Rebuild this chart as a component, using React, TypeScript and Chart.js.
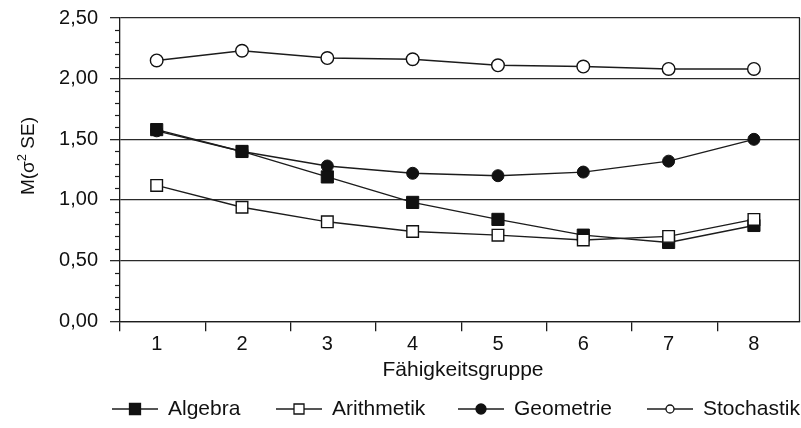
import React, { useEffect, useRef } from "react";
import { Chart, registerables } from "chart.js";

Chart.register(...registerables);

// Ability groups on the x axis
const groups = [1, 2, 3, 4, 5, 6, 7, 8];

// Mean squared standard error per content area
const algebra = [1.58, 1.4, 1.19, 0.98, 0.84, 0.71, 0.65, 0.79];
const arithmetik = [1.12, 0.94, 0.82, 0.74, 0.71, 0.67, 0.7, 0.84];
const geometrie = [1.57, 1.4, 1.28, 1.22, 1.2, 1.23, 1.32, 1.5];
const stochastik = [2.15, 2.23, 2.17, 2.16, 2.11, 2.1, 2.08, 2.08];

const seriesNames = ["Algebra", "Arithmetik", "Geometrie", "Stochastik"];
const yTicks = [0, 0.5, 1, 1.5, 2, 2.5];
const xTitle = "Fähigkeitsgruppe";

const FONT = '"Liberation Sans", Arial, Helvetica, sans-serif';
const INK = "#111";
const LINE = "#1c1c1c";
const X_MIN = 0.57;
const X_MAX = 8.54;
const TICK_SHIFT = 0.43;

// legend entry start positions (left end of each sample line)
const LEGEND_X = [112, 276, 458, 647];

type Marker = "filledRect" | "openRect" | "filledCircle" | "openCircle";
const markers: Marker[] = ["filledRect", "openRect", "filledCircle", "openCircle"];

function drawMarker(ctx: CanvasRenderingContext2D, kind: Marker, x: number, y: number, size: number) {
  ctx.save();
  ctx.lineWidth = 1.3;
  ctx.strokeStyle = INK;
  ctx.fillStyle = kind.startsWith("filled") ? INK : "#fff";
  ctx.beginPath();
  if (kind.endsWith("Rect")) {
    ctx.rect(x - size / 2, y - size / 2, size, size);
  } else {
    ctx.arc(x, y, size / 2, 0, Math.PI * 2);
  }
  ctx.fill();
  ctx.stroke();
  ctx.restore();
}

const decorations = {
  id: "decorations",
  afterDraw(chart: any) {
    const { ctx, chartArea, scales } = chart;
    const y = scales.y;
    ctx.save();

    // minor ticks on the value axis
    ctx.strokeStyle = LINE;
    ctx.lineWidth = 1.2;
    for (let i = 0; i <= 25; i++) {
      if (i % 5 === 0) continue;
      const py = Math.round(y.getPixelForValue(i / 10)) + 0.5;
      ctx.beginPath();
      ctx.moveTo(chartArea.left - 5, py);
      ctx.lineTo(chartArea.left, py);
      ctx.stroke();
    }

    // right frame edge
    ctx.lineWidth = 1.3;
    ctx.beginPath();
    ctx.moveTo(chartArea.right - 0.5, chartArea.top);
    ctx.lineTo(chartArea.right - 0.5, chartArea.bottom);
    ctx.stroke();

    // x axis title
    ctx.fillStyle = INK;
    ctx.font = `21px ${FONT}`;
    ctx.textAlign = "center";
    ctx.textBaseline = "middle";
    ctx.fillText(xTitle, (chartArea.left + chartArea.right) / 2 + 3, 370);

    // y axis title with superscript
    ctx.save();
    ctx.translate(27, 156);
    ctx.rotate(-Math.PI / 2);
    ctx.textAlign = "left";
    ctx.textBaseline = "alphabetic";
    const big = `19px ${FONT}`;
    const small = `13px ${FONT}`;
    ctx.font = big;
    const a = "M(σ";
    const c = " SE)";
    const wa = ctx.measureText(a).width;
    const wc = ctx.measureText(c).width;
    ctx.font = small;
    const wb = ctx.measureText("2").width;
    const total = wa + wb + wc;
    let cx = -total / 2;
    const base = 7;
    ctx.font = big;
    ctx.fillText(a, cx, base);
    cx += wa;
    ctx.font = small;
    ctx.fillText("2", cx, base - 8);
    cx += wb;
    ctx.font = big;
    ctx.fillText(c, cx, base);
    ctx.restore();

    // legend
    const ly = 409;
    const legendSizes = [11, 10, 10, 8];
    ctx.font = `21px ${FONT}`;
    ctx.textAlign = "left";
    ctx.textBaseline = "middle";
    seriesNames.forEach((name, i) => {
      const lx = LEGEND_X[i];
      ctx.strokeStyle = LINE;
      ctx.lineWidth = 1.5;
      ctx.beginPath();
      ctx.moveTo(lx, ly);
      ctx.lineTo(lx + 46, ly);
      ctx.stroke();
      drawMarker(ctx, markers[i], lx + 23, ly, legendSizes[i]);
      ctx.fillStyle = INK;
      ctx.fillText(name, lx + 56, ly);
    });

    ctx.restore();
  },
};

function points(values: number[]) {
  return groups.map((g, i) => ({ x: g, y: values[i] }));
}

export default function App() {
  const canvasRef = useRef<HTMLCanvasElement | null>(null);

  useEffect(() => {
    const canvas = canvasRef.current;
    if (!canvas) return;

    const common = {
      borderColor: LINE,
      borderWidth: 1.4,
      pointBorderColor: INK,
      tension: 0,
      fill: false,
    };

    const chart = new Chart(canvas, {
      type: "line",
      data: {
        datasets: [
          {
            ...common,
            label: seriesNames[0],
            data: points(algebra),
            pointStyle: "rect",
            pointRadius: 8.6,
            pointBackgroundColor: INK,
            pointBorderWidth: 1,
            order: 1,
          },
          {
            ...common,
            label: seriesNames[1],
            data: points(arithmetik),
            pointStyle: "rect",
            pointRadius: 8.2,
            pointBackgroundColor: "#fff",
            pointBorderWidth: 1.4,
            order: 0,
          },
          {
            ...common,
            label: seriesNames[2],
            data: points(geometrie),
            pointStyle: "circle",
            pointRadius: 6,
            pointBackgroundColor: INK,
            pointBorderWidth: 1,
            order: 2,
          },
          {
            ...common,
            label: seriesNames[3],
            data: points(stochastik),
            pointStyle: "circle",
            pointRadius: 6.3,
            pointBackgroundColor: "#fff",
            pointBorderWidth: 1.4,
            order: 3,
          },
        ],
      },
      options: {
        responsive: false,
        animation: false,
        devicePixelRatio: 1,
        layout: { autoPadding: false, padding: { top: 18, right: 1, left: 0, bottom: 0 } },
        plugins: {
          legend: { display: false },
          tooltip: { enabled: false },
        },
        scales: {
          x: {
            type: "linear",
            min: X_MIN,
            max: X_MAX,
            afterBuildTicks(scale: any) {
              const t: { value: number }[] = [];
              groups.forEach((g) => {
                t.push({ value: g - TICK_SHIFT });
                t.push({ value: g });
              });
              scale.ticks = t;
            },
            afterFit(scale: any) {
              scale.height = 106.7;
              scale.paddingLeft = 0;
              scale.paddingRight = 0;
            },
            ticks: {
              autoSkip: false,
              maxRotation: 0,
              padding: 1,
              color: INK,
              font: { family: FONT, size: 20 },
              callback: (v: any) => (Number.isInteger(v) ? String(v) : ""),
            },
            grid: {
              drawOnChartArea: false,
              drawTicks: true,
              tickLength: 10,
              lineWidth: 1.3,
              color: (ctx: any) =>
                ctx.tick && Number.isInteger(ctx.tick.value) ? "rgba(0,0,0,0)" : LINE,
            },
            border: { display: true, color: LINE, width: 1.3 },
          },
          y: {
            min: 0,
            max: 2.5,
            afterBuildTicks(scale: any) {
              scale.ticks = yTicks.map((v) => ({ value: v }));
            },
            afterFit(scale: any) {
              scale.width = 120;
              scale.paddingTop = 0;
              scale.paddingBottom = 0;
            },
            ticks: {
              padding: 12,
              color: INK,
              font: { family: FONT, size: 20 },
              callback: (v: any) => Number(v).toFixed(2).replace(".", ","),
            },
            grid: {
              drawTicks: true,
              tickLength: 10,
              lineWidth: 1.3,
              color: "#2a2a2a",
            },
            border: { display: true, color: LINE, width: 1.3 },
          },
        },
      },
      plugins: [decorations],
    } as any);

    return () => chart.destroy();
  }, []);

  return (
    <div style={{ position: "absolute", left: 0, top: 0, width: 801, height: 428, background: "#fff" }}>
      <canvas ref={canvasRef} width={801} height={428} />
    </div>
  );
}
